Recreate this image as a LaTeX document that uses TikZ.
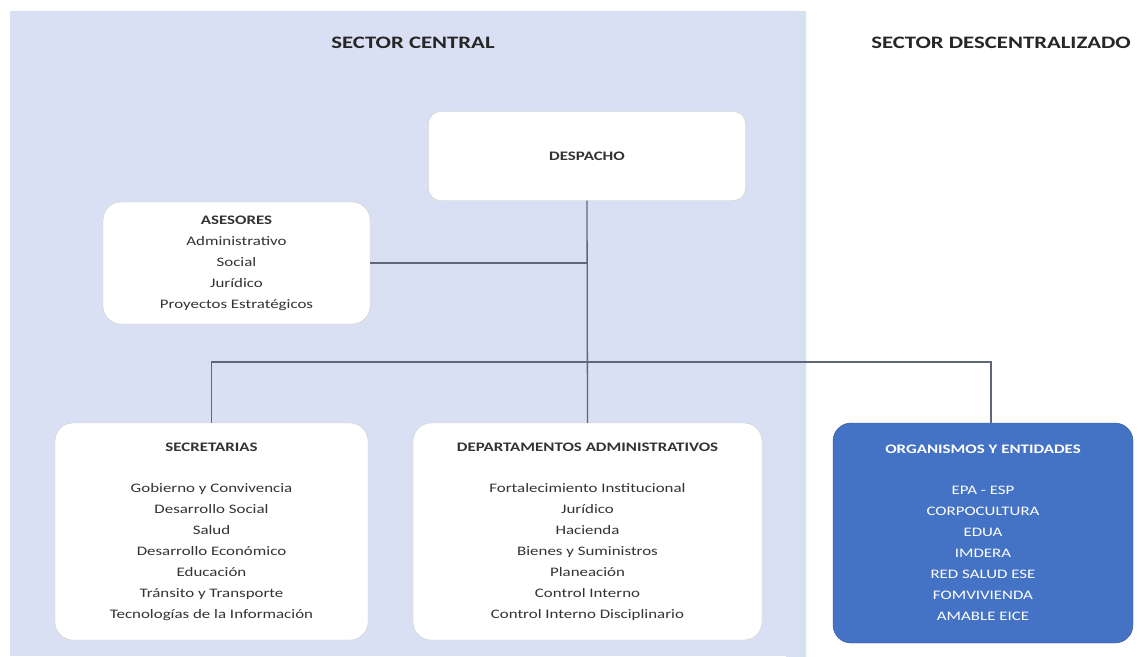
\documentclass[tikz,border=0pt]{standalone}
\usepackage{fontspec}
\setmainfont{Carlito}
\newfontfamily\boxfont[FakeStretch=1.3]{Carlito}

\definecolor{centralbg}{HTML}{DAE0F3}
\definecolor{edgebg}{HTML}{D2E2EE}
\definecolor{orgblue}{HTML}{4472C4}
\definecolor{linegray}{HTML}{5F6675}

\tikzset{
  unitbox/.style={draw=gray!40, fill=white, rounded corners=18pt, align=center,
    inner sep=0pt, text=black!80, font=\boxfont\fontsize{13}{21}\selectfont},
  orgbox/.style={unitbox, fill=orgblue, draw=orgblue!75!black, text=white},
  conn/.style={draw=linegray, line width=1.3pt},
  sectortitle/.style={text=black!85, font=\boxfont\fontsize{17.5}{20}\selectfont\bfseries}
}

\begin{document}
\begin{tikzpicture}[x=1pt, y=1pt]
\useasboundingbox (0,0) rectangle (1142,-656);
% sectors
\fill[centralbg] (10,-11) rectangle (806,-656);
\shade[left color=centralbg, right color=edgebg] (786,-11) rectangle (806,-656);
\node[sectortitle] (central) at (413,-43) {SECTOR CENTRAL};
\node[sectortitle] (descentral) at (1001,-43) {SECTOR DESCENTRALIZADO};

% boxes
\node[unitbox, rounded corners=12pt, minimum width=317pt, minimum height=89pt] (despacho) at (587,-156) {\textbf{DESPACHO}};
\node[unitbox, minimum width=267pt, minimum height=122pt] (asesores) at (236.5,-263) {%
  \textbf{ASESORES}\\ Administrativo\\ Social\\ Jurídico\\ Proyectos Estratégicos};
\node[unitbox, minimum width=313pt, minimum height=217pt] (secretarias) at (211.5,-531.5) {%
  \textbf{SECRETARIAS}\\[20pt]
  Gobierno y Convivencia\\ Desarrollo Social\\ Salud\\ Desarrollo Económico\\
  Educación\\ Tránsito y Transporte\\ Tecnologías de la Información};
\node[unitbox, minimum width=349pt, minimum height=217pt] (deptos) at (587.5,-531.5) {%
  \textbf{DEPARTAMENTOS ADMINISTRATIVOS}\\[20pt]
  Fortalecimiento Institucional\\ Jurídico\\ Hacienda\\ Bienes y Suministros\\
  Planeación\\ Control Interno\\ Control Interno Disciplinario};
\node[orgbox, minimum width=300pt, minimum height=220pt] (organismos) at (983,-533) {%
  \textbf{ORGANISMOS Y ENTIDADES}\\[20pt]
  EPA - ESP\\ CORPOCULTURA\\ EDUA\\ IMDERA\\ RED SALUD ESE\\ FOMVIVIENDA\\ AMABLE EICE};

% connectors
\coordinate (bus) at (588,-362);
\coordinate (orgtop) at (991,-423);
\draw[conn] (despacho.south) -- (deptos.north);
\draw[conn] (asesores.east) -- (asesores.east -| despacho.south);
\draw[conn] (secretarias.north) |- (bus) -| (orgtop);
\end{tikzpicture}
\end{document}
